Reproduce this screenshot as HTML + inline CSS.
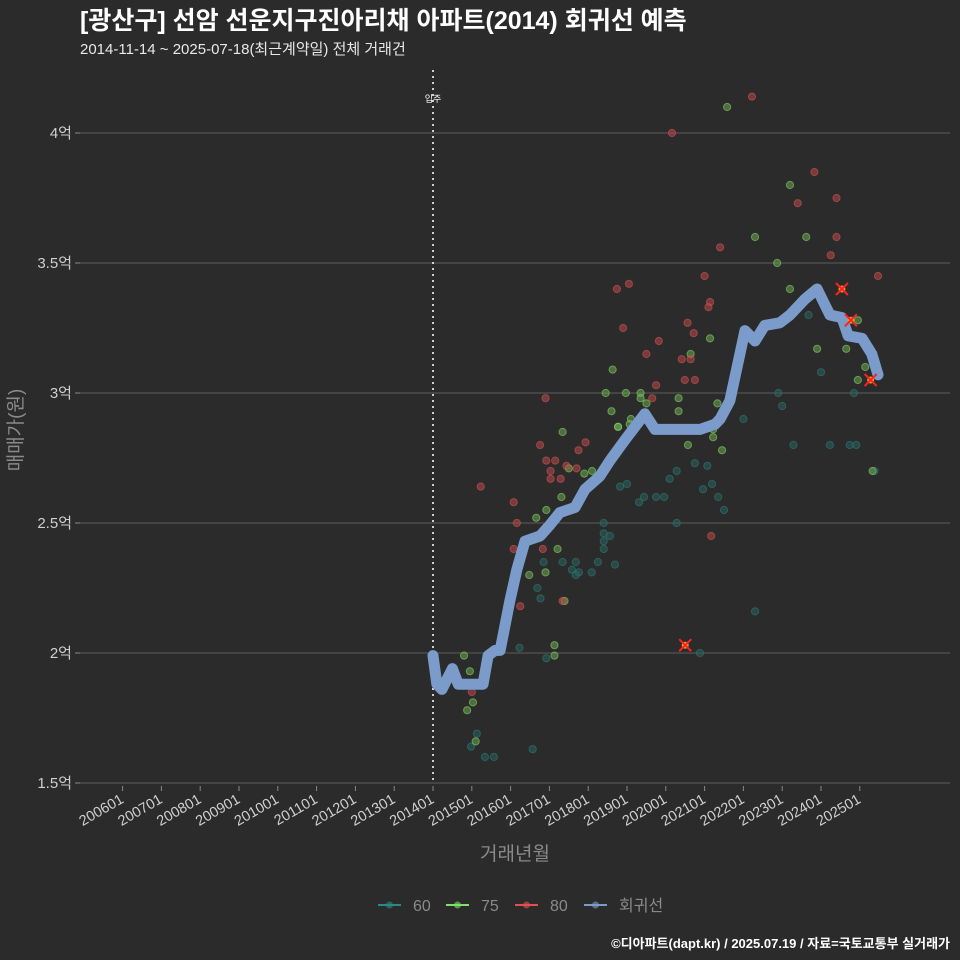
<!DOCTYPE html>
<html><head><meta charset="utf-8">
<style>
body{margin:0;background:#2b2b2c;}
svg{display:block;font-family:"Liberation Sans","Noto Sans CJK KR",sans-serif;}
</style></head>
<body>
<svg id="c" width="960" height="960" viewBox="0 0 960 960">
<rect width="960" height="960" fill="#2b2b2c"/>
<text x="80" y="29" fill="#fff" font-size="25" font-weight="bold">[광산구] 선암 선운지구진아리채 아파트(2014) 회귀선 예측</text>
<text x="80" y="54" fill="#e8e8e8" font-size="15">2014-11-14 ~ 2025-07-18(최근계약일) 전체 거래건</text>
<g id="grid"></g>
<g id="pts"></g>
<g id="reg"></g>
<g id="marks"></g>
<text transform="translate(22,430) rotate(-90)" text-anchor="middle" fill="#8a8a8a" font-size="19">매매가(원)</text>
<text x="515" y="860" text-anchor="middle" fill="#8a8a8a" font-size="19">거래년월</text>
<g id="legend"></g>
<text x="950" y="948" text-anchor="end" fill="#fff" font-size="13" font-weight="bold">©디아파트(dapt.kr) / 2025.07.19 / 자료=국토교통부 실거래가</text>
</svg>
<script>
const yTicks=[1.5,2,2.5,3,3.5,4];
const yTickLabels=["1.5억","2억","2.5억","3억","3.5억","4억"];
const xTickYears=[2006,2007,2008,2009,2010,2011,2012,2013,2014,2015,2016,2017,2018,2019,2020,2021,2022,2023,2024,2025];
const xTickLabels=["200601","200701","200801","200901","201001","201101","201201","201301","201401","201501","201601","201701","201801","201901","202001","202101","202201","202301","202401","202501"];
const moveInYear=2014.0;
const regT=[2014.0,2014.1,2014.23,2014.5,2014.65,2014.82,2015.29,2015.42,2015.6,2015.73,2015.98,2016.16,2016.37,2016.76,2017.0,2017.27,2017.66,2017.92,2018.3,2018.56,2018.95,2019.46,2019.72,2020.37,2020.88,2021.27,2021.4,2021.65,2022.04,2022.3,2022.55,2022.94,2023.2,2023.58,2023.9,2024.23,2024.54,2024.7,2025.06,2025.31,2025.47];
const regP=[1.99,1.88,1.86,1.94,1.88,1.88,1.88,1.99,2.01,2.01,2.2,2.32,2.43,2.45,2.49,2.54,2.56,2.63,2.68,2.74,2.82,2.92,2.86,2.86,2.86,2.88,2.9,2.97,3.24,3.2,3.26,3.27,3.3,3.36,3.4,3.3,3.29,3.22,3.21,3.15,3.07];
const redT=[2020.16,2022.22,2021.4,2023.83,2023.4,2024.4,2024.4,2024.25,2025.47,2018.74,2019.05,2021.0,2021.14,2021.1,2020.56,2020.72,2019.82,2019.5,2018.9,2020.41,2020.64,2020.49,2020.75,2019.75,2019.65,2016.9,2016.76,2016.92,2017.15,2017.03,2017.03,2017.29,2017.44,2017.7,2017.93,2017.75,2015.23,2016.08,2016.16,2016.08,2016.83,2016.25,2017.34,2015.0,2021.17];
const redP=[4.0,4.14,3.56,3.85,3.73,3.75,3.6,3.53,3.45,3.4,3.42,3.45,3.35,3.33,3.27,3.23,3.2,3.15,3.25,3.13,3.13,3.05,3.05,3.03,2.98,2.98,2.8,2.74,2.74,2.7,2.67,2.67,2.72,2.71,2.81,2.78,2.64,2.58,2.5,2.4,2.4,2.18,2.2,1.85,2.45];
const greenT=[2021.58,2022.3,2023.2,2022.87,2023.62,2023.2,2024.18,2024.95,2023.9,2024.65,2025.14,2024.95,2021.14,2020.64,2018.63,2018.97,2020.33,2020.33,2019.5,2019.1,2018.77,2020.57,2021.22,2021.45,2021.33,2021.22,2018.45,2018.6,2017.34,2018.77,2019.07,2019.35,2019.35,2017.31,2016.66,2016.92,2017.21,2016.9,2016.48,2017.39,2017.13,2017.13,2014.8,2014.95,2015.03,2014.88,2015.1,2017.5,2017.9,2018.1,2018.28,2025.33];
const greenP=[4.1,3.6,3.8,3.5,3.6,3.4,3.32,3.28,3.17,3.17,3.1,3.05,3.21,3.15,3.09,3.0,2.98,2.93,2.96,2.9,2.87,2.8,2.83,2.78,2.96,2.86,3.0,2.93,2.85,2.87,2.88,3.0,2.98,2.6,2.52,2.55,2.4,2.31,2.3,2.2,2.03,1.99,1.99,1.93,1.81,1.78,1.66,2.71,2.69,2.7,2.68,2.7];
const tealT=[2015.13,2014.98,2015.34,2015.57,2016.57,2016.23,2016.92,2016.77,2016.69,2016.85,2017.34,2017.68,2017.76,2017.58,2017.68,2018.09,2018.25,2018.69,2018.4,2018.4,2018.4,2018.4,2018.56,2019.0,2018.82,2019.44,2019.31,2019.75,2019.96,2020.28,2020.1,2020.28,2020.75,2021.07,2021.19,2020.96,2020.88,2022.3,2022.9,2023.0,2023.29,2024.23,2024.74,2024.91,2023.68,2024.0,2024.85,2025.38,2021.35,2021.5,2022.0];
const tealP=[1.69,1.64,1.6,1.6,1.63,2.02,1.98,2.21,2.25,2.35,2.35,2.35,2.31,2.32,2.3,2.31,2.35,2.34,2.5,2.46,2.43,2.4,2.45,2.65,2.64,2.6,2.58,2.6,2.6,2.7,2.67,2.5,2.73,2.72,2.65,2.63,2.0,2.16,3.0,2.95,2.8,2.8,2.8,2.8,3.3,3.08,3.0,2.7,2.6,2.55,2.9];
const flagT=[2020.5,2024.54,2024.77,2025.28];
const flagP=[2.03,3.4,3.28,3.05];

const NS="http://www.w3.org/2000/svg";
const X0=433,PXY=38.8,Y0=783,PXP=260;
function xs(t){return X0+(t-2014)*PXY;}
function ys(p){return Y0-(p-1.5)*PXP;}
function mk(tag,attrs,parent){const e=document.createElementNS(NS,tag);for(const k in attrs)e.setAttribute(k,attrs[k]);parent.appendChild(e);return e;}
const grid=document.getElementById('grid');
yTicks.forEach((v,i)=>{
  const l=mk('line',{x1:80,x2:950,y1:ys(v),y2:ys(v),stroke:'#5c5c5c','stroke-width':1},grid);
  
  
  const tk=mk('line',{x1:75,x2:80,y1:ys(v),y2:ys(v),stroke:'#888'},grid);
  
  
  const t=mk('text',{x:72,y:ys(v)+5,'text-anchor':'end',fill:'#cfcfcf','font-size':15},grid);
  t.textContent=yTickLabels[i];
  
  
});
xTickYears.forEach((yr,i)=>{
  const x=xs(yr);
  const tk=mk('line',{x1:x,x2:x,y1:786,y2:791,stroke:'#888'},grid);
  
  
  const t=mk('text',{x:x+2,y:802,'text-anchor':'end',fill:'#cfcfcf','font-size':14.5,transform:`rotate(-30 ${x+2} 802)`},grid);
  t.textContent=xTickLabels[i];
  
  
});
const vl=mk('line',{x1:xs(moveInYear),x2:xs(moveInYear),y1:70,y2:783,stroke:'#cfcfcf','stroke-width':2,'stroke-dasharray':'2 4'},grid);


const vt=mk('text',{x:xs(moveInYear),y:102,'text-anchor':'middle',fill:'#fff','font-size':9},grid);
vt.textContent='입주';



const pts=document.getElementById('pts');
function series(T,P,fill,stroke,name){
  T.forEach((t,i)=>{
    const c=mk('circle',{cx:xs(t),cy:ys(P[i]),r:3.6,fill:fill,'fill-opacity':0.55,stroke:stroke,'stroke-opacity':0.55,'stroke-width':1},pts);
    
    
  });
}
series(tealT,tealP,'#28625e','#2f7f78','point-60');
series(greenT,greenP,'#6aa84f','#8fdc70','point-75');
series(redT,redP,'#b84848','#e05555','point-80');

const reg=document.getElementById('reg');
const path=mk('polyline',{points:regT.map((t,i)=>xs(t)+','+ys(regP[i])).join(' '),fill:'none',stroke:'#7b9ccb','stroke-width':11,'stroke-linejoin':'round','stroke-linecap':'round'},reg);



const marks=document.getElementById('marks');
flagT.forEach((t,i)=>{
  const x=xs(t),y=ys(flagP[i]);
  const g=mk('g',{},marks);
  
  
  mk('circle',{cx:x,cy:y,r:3.5,fill:'#e0a020'},g);
  mk('path',{d:`M${x-6} ${y-6}L${x+6} ${y+6}M${x+6} ${y-6}L${x-6} ${y+6}`,stroke:'#ff2020','stroke-width':2},g);
});

const lg=document.getElementById('legend');
const items=[['60','#2a8a85'],['75','#7fe06a'],['80','#e05050'],['회귀선','#7b9ccb']];
const lx=[378,446,515,584];
items.forEach((it,i)=>{
  const g=mk('g',{},lg);
  
  
  mk('line',{x1:lx[i],x2:lx[i]+23,y1:905,y2:905,stroke:it[1],'stroke-width':2},g);
  mk('circle',{cx:lx[i]+11.5,cy:905,r:3.5,fill:it[1],'fill-opacity':0.6},g);
  const t=mk('text',{x:lx[i]+35,y:911,fill:'#8a8a8a','font-size':16},g);
  t.textContent=it[0];
});
</script>
</body></html>
